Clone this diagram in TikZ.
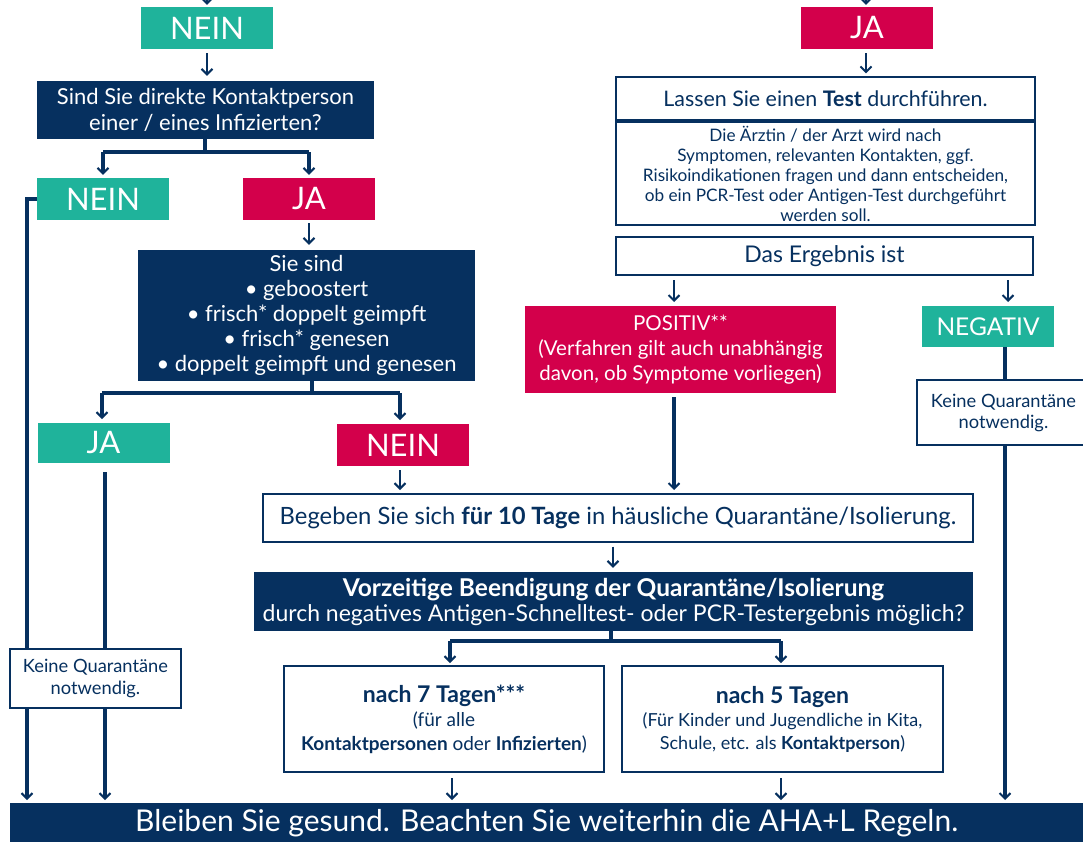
\documentclass[tikz,border=0pt]{standalone}
\usepackage{fontspec}
\setmainfont{Lato}
\usetikzlibrary{arrows.meta}
\definecolor{cteal}{HTML}{1FB39B}
\definecolor{cred}{HTML}{D3004B}
\definecolor{cnavy}{HTML}{06305F}
\newcommand{\fs}[2]{\fontsize{#1}{#2}\selectfont}
\tikzset{
  boxbase/.style={rectangle, align=center, inner sep=0pt},
  tealbox/.style={boxbase, fill=cteal, text=white},
  redbox/.style={boxbase, fill=cred, text=white},
  navybox/.style={boxbase, fill=cnavy, text=white},
  whitebox/.style={boxbase, fill=white, draw=cnavy, line width=1.3pt, text=cnavy},
  tip/.style={-{Straight Barb[length=5.5pt,width=11pt,line width=2pt]}},
  thinarrow/.style={draw=cnavy, line width=2pt, tip},
  thickline/.style={draw=cnavy, line width=3.5pt},
  thickarrow/.style={thickline, tip},
  yn/.style={minimum width=132pt, minimum height=42pt, font=\fs{31}{32}},
}
\begin{document}
\begin{tikzpicture}[x=1pt,y=-1pt]
\useasboundingbox (0,0) rectangle (1083,841);
% ---------- left column
\node[tealbox, yn] (nein1) at (207,28) {NEIN};
\node[navybox, minimum width=337pt, minimum height=58pt, font=\fs{22}{26}] (q1) at (205.5,110)
  {Sind Sie direkte Kontaktperson\\einer / eines Infizierten?};
\node[tealbox, yn] (nein2) at (103,199) {NEIN};
\node[redbox, yn] (ja2) at (309,199) {JA};
\node[navybox, minimum width=337pt, minimum height=131pt, font=\fs{22}{25}] (sie) at (306.5,315.5)
  {Sie sind\\\textbullet\ geboostert\\\textbullet\ frisch* doppelt geimpft\\\textbullet\ frisch* genesen\\\textbullet\ doppelt geimpft und genesen};
\node[tealbox, yn, minimum height=40pt] (ja3) at (103.5,443) {JA};
\node[redbox, yn] (nein3) at (403,445) {NEIN};
% ---------- right column
\node[redbox, yn] (ja1) at (867,28) {JA};
\node[whitebox, minimum width=419pt, minimum height=43pt, font=\fs{21.4}{24}] (lassen) at (825.5,98.5)
  {Lassen Sie einen \textbf{Test} durchführen.};
\node[whitebox, minimum width=419pt, minimum height=103pt, font=\fs{17.2}{20}] (arzt) at (825.5,173.5)
  {Die Ärztin / der Arzt wird nach\\Symptomen, relevanten Kontakten, ggf.\\Risikoindikationen fragen und dann entscheiden,\\ob ein PCR-Test oder Antigen-Test durchgeführt\\werden soll.};
\node[whitebox, minimum width=417pt, minimum height=38pt, font=\fs{23}{24}] (ergebnis) at (824.5,256)
  {Das Ergebnis ist};
\node[redbox, minimum width=311pt, minimum height=87pt, font=\fs{20.5}{25}] (pos) at (680.5,349.5)
  {POSITIV**\\(Verfahren gilt auch unabhängig\\davon, ob Symptome vorliegen)};
\node[tealbox, minimum width=132pt, minimum height=41pt, font=\fs{24.5}{26}] (neg) at (988,326.5) {NEGATIV};
% ---------- lower part
\node[whitebox, minimum width=710pt, minimum height=48pt, font=\fs{23.8}{26}] (begeben) at (618,518)
  {Begeben Sie sich \textbf{für 10 Tage} in häusliche Quarantäne/Isolierung.};
\node[navybox, minimum width=719pt, minimum height=59pt, font=\fs{23}{25}] (vorz) at (613.5,601.5)
  {{\fs{24.5}{25}\textbf{Vorzeitige Beendigung der Quarantäne/Isolierung}}\\durch negatives Antigen-Schnelltest- oder PCR-Testergebnis möglich?};
\node[whitebox, minimum width=320pt, minimum height=106pt, font=\fs{19}{24}] (n7) at (444,719)
  {{\fs{23}{24}\textbf{nach 7 Tagen***}}\\(für alle\\\textbf{Kontaktpersonen} oder \textbf{Infizierten})};
\node[whitebox, minimum width=321pt, minimum height=106pt, font=\fs{18}{23}] (n5) at (782.5,719)
  {{\fs{23}{24}\textbf{nach 5 Tagen}}\\(Für Kinder und Jugendliche in Kita,\\Schule, etc. als \textbf{Kontaktperson})};
\node[navybox, minimum width=1080pt, minimum height=40pt, font=\fs{30}{32}, anchor=north west] (bar) at (10,803)
  {\hspace*{-7pt}Bleiben Sie gesund. Beachten Sie weiterhin die AHA+L Regeln.};
% ---------- coordinates
\coordinate (t1) at (207,0);
\coordinate (t2) at (866,0);
\coordinate (b1) at (205,152);
\coordinate (b2) at (312,393);
\coordinate (b3) at (611,641);
\coordinate (l1) at (27,803);
\coordinate (l2) at (105,803);
\coordinate (l3) at (1005,803);
% ---------- connectors (long lines first, boxes drawn over them)
\draw[thickarrow, shorten >=3pt] (nein2.west) -| (l1);
\draw[thickarrow, shorten <=9pt, shorten >=3pt] (l2 |- ja3.south) -- (l2);
\draw[thickline] (l3 |- neg.south) -- (l3 |- 0,380);
\draw[thickarrow, shorten >=3pt] (l3 |- 0,445) -- (l3);
\node[whitebox, minimum width=171pt, minimum height=59pt, font=\fs{18.3}{22}] (keineL) at (95.5,678.5)
  {Keine Quarantäne\\notwendig.};
\node[whitebox, minimum width=173pt, minimum height=65pt, font=\fs{18.3}{21}] (keineR) at (1003.5,412.5)
  {Keine Quarantäne\\notwendig.};
\draw[thinarrow, shorten >=2pt] (t1) -- (nein1.north);
\draw[thinarrow, shorten <=4pt, shorten >=5pt] (nein1.south) -- (q1.north -| nein1.south);
\draw[thickline] (b1 |- q1.south) -- (b1);
\draw[thickline] (nein2.north |- b1) -- (ja2.north |- b1);
\draw[thickarrow, shorten >=3pt] (nein2.north |- b1) -- (nein2.north);
\draw[thickarrow, shorten >=3pt] (ja2.north |- b1) -- (ja2.north);
\draw[thinarrow, shorten <=3pt, shorten >=5pt] (ja2.south) -- (ja2.south |- sie.north);
\draw[thickline] (b2 |- sie.south) -- (b2);
\draw[thickline] (102,393) -- (400,393);
\draw[thickarrow, shorten >=4pt] (102,393) -- (102,423);
\draw[thickarrow, shorten >=4pt] (400,393) -- (400,424);
\draw[thinarrow, shorten <=4pt, shorten >=4pt] (400,466) -- (400,494);
\draw[thinarrow, shorten >=2pt] (t2) -- (ja1.north -| t2);
\draw[thinarrow, shorten <=4pt, shorten >=3pt] (ja1.south -| t2) -- (lassen.north -| t2);
\draw[thinarrow, shorten <=5pt, shorten >=4pt] (674,275) -- (674,306);
\draw[thinarrow, shorten <=5pt, shorten >=4pt] (1008,275) -- (1008,306);
\draw[thickarrow, shorten <=4pt, shorten >=4pt] (674,393) -- (674,494);
\draw[thinarrow, shorten <=4pt, shorten >=4pt] (begeben.south -| 613,0) -- (vorz.north -| 613,0);
\draw[thickline] (b3 |- vorz.south) -- (b3);
\draw[thickline] (450,641) -- (781,641);
\draw[thickarrow, shorten >=3pt] (450,641) -- (450,666);
\draw[thickarrow, shorten >=3pt] (781,641) -- (781,666);
\draw[thinarrow, shorten <=6pt, shorten >=3pt] (452,772) -- (452,803);
\draw[thinarrow, shorten <=6pt, shorten >=3pt] (781,772) -- (781,803);
\end{tikzpicture}
\end{document}
